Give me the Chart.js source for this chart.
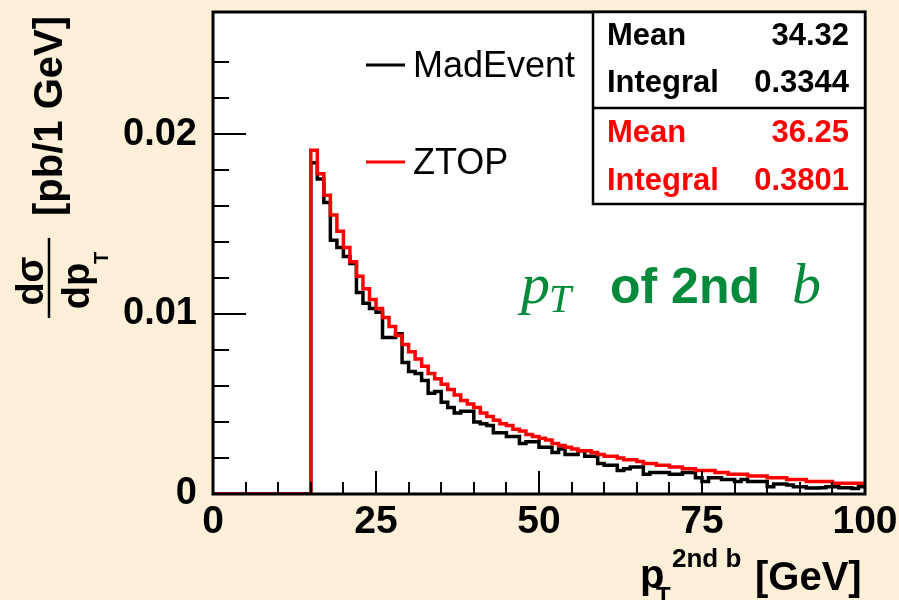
<!DOCTYPE html>
<html>
<head>
<meta charset="utf-8">
<script src="https://cdn.jsdelivr.net/npm/chart.js@4.4.0/dist/chart.umd.min.js"></script>
<style>
  html, body { margin: 0; padding: 0; background: #fdefd8; }
  #wrap { width: 899px; height: 600px; }
</style>
</head>
<body>
<div id="wrap"><canvas id="ptChart" width="899" height="600"></canvas></div>
<script>
// 1 GeV bins, lower edges 0..99
const binLow = Array.from({ length: 100 }, (_, i) => i);

// MadEvent (black)
const madEvent = [
  0, 0, 0, 0, 0, 0, 0, 0, 0, 0,
  0, 0, 0, 0, 0, 0.0184, 0.0175, 0.0162, 0.0141, 0.0137,
  0.0132, 0.0128, 0.0112, 0.0106, 0.0103, 0.0101, 0.0087, 0.0087, 0.0089, 0.0073,
  0.0068, 0.0067, 0.0063, 0.0056, 0.0057, 0.0051, 0.0048, 0.0045, 0.0046, 0.0046,
  0.0040, 0.0039, 0.0038, 0.0034, 0.0034, 0.0032, 0.0032, 0.0028, 0.0029, 0.0029,
  0.0026, 0.0026, 0.0023, 0.0025, 0.0022, 0.0022, 0.0024, 0.0021, 0.0021, 0.0017,
  0.0016, 0.0016, 0.0013, 0.0014, 0.0015, 0.0015, 0.0011, 0.0012, 0.0012, 0.0012,
  0.0011, 0.0011, 0.0012, 0.0012, 0.0009, 0.0007, 0.0009, 0.0009, 0.0008, 0.0008,
  0.0007, 0.0008, 0.0007, 0.0007, 0.0007, 0.0004, 0.00055, 0.00055, 0.0005, 0.0004,
  0.0004, 0.00033, 0.00033, 0.00035, 0.0004, 0.0004, 0.00035, 0.00035, 0.0003, 0.0004
];

// ZTOP (red)
const ztop = [
  0, 0, 0, 0, 0, 0, 0, 0, 0, 0,
  0, 0, 0, 0, 0, 0.0191, 0.0178, 0.0166, 0.0155, 0.0146,
  0.0137, 0.0129, 0.0121, 0.0114, 0.0108, 0.0103, 0.0098, 0.0093, 0.0088, 0.0083,
  0.0079, 0.0075, 0.0071, 0.0067, 0.0064, 0.0061, 0.0058, 0.0055, 0.0052, 0.0050,
  0.0048, 0.0045, 0.0043, 0.0041, 0.0039, 0.0038, 0.0036, 0.0035, 0.0033, 0.0032,
  0.0031, 0.0030, 0.0028, 0.0027, 0.0026, 0.0025, 0.0024, 0.0024, 0.0023, 0.0022,
  0.0021, 0.0021, 0.0020, 0.0019, 0.0019, 0.0018, 0.0017, 0.0017, 0.0016, 0.0016,
  0.0015, 0.0015, 0.0014, 0.0014, 0.0013, 0.0013, 0.0013, 0.0012, 0.0012, 0.0011,
  0.0011, 0.0011, 0.0010, 0.0010, 0.0010, 0.0009, 0.0009, 0.0009, 0.0008, 0.0008,
  0.0008, 0.0007, 0.0007, 0.0007, 0.0007, 0.0006, 0.0006, 0.0006, 0.0006, 0.0006
];

const xTickLabels = ['0', '25', '50', '75', '100'];
const yTickLabels = ['0', '0.01', '0.02'];
const statNames = ['Mean', 'Integral'];
const madStats = ['34.32', '0.3344'];
const ztopStats = ['36.25', '0.3801'];

const bgColor = '#fdefd8';
const green = '#008a3a';
const sans = '"Liberation Sans", Arial, sans-serif';
const serif = '"Liberation Serif", "Times New Roman", serif';

// histogram outline: point at each lower edge, plus the last upper edge
function toSteps(vals) {
  const pts = binLow.map((x, i) => ({ x: x, y: vals[i] }));
  pts.push({ x: 100, y: vals[vals.length - 1] });
  return pts;
}

const rootStyle = {
  id: 'rootStyle',
  beforeDraw(chart) {
    const { ctx, chartArea: a } = chart;
    ctx.save();
    ctx.fillStyle = bgColor;
    ctx.fillRect(0, 0, chart.width, chart.height);
    ctx.fillStyle = '#fff';
    ctx.fillRect(a.left, a.top, a.right - a.left, a.bottom - a.top);
    ctx.restore();
  },
  afterDatasetsDraw(chart) {
    const { ctx, chartArea: a, scales } = chart;
    ctx.save();

    // ticks drawn inside the frame
    ctx.strokeStyle = '#000';
    ctx.lineWidth = 2;
    scales.y.ticks.forEach(t => {
      if (t.value > scales.y.max - 1e-6 || t.value < 1e-9) return;
      const major = Math.abs(t.value / 0.01 - Math.round(t.value / 0.01)) < 1e-6;
      const py = Math.round(scales.y.getPixelForValue(t.value));
      ctx.beginPath();
      ctx.moveTo(a.left, py);
      ctx.lineTo(a.left + (major ? 33 : 16), py);
      ctx.stroke();
    });
    scales.x.ticks.forEach(t => {
      if (t.value <= 0 || t.value >= 100) return;
      const major = t.value % 25 === 0;
      const px = Math.round(scales.x.getPixelForValue(t.value));
      ctx.beginPath();
      ctx.moveTo(px, a.bottom);
      ctx.lineTo(px, a.bottom - (major ? 23 : 12));
      ctx.stroke();
    });

    // frame
    ctx.lineWidth = 3;
    ctx.strokeRect(a.left, a.top, a.right - a.left, a.bottom - a.top);

    // stats box
    const bx = 593, yMid = 108, yBot = 204;
    ctx.fillStyle = '#fff';
    ctx.fillRect(bx, a.top, a.right - bx, yBot - a.top);
    ctx.lineWidth = 2.5;
    ctx.strokeRect(bx, a.top, a.right - bx, yBot - a.top);
    ctx.beginPath();
    ctx.moveTo(bx, yMid);
    ctx.lineTo(a.right, yMid);
    ctx.stroke();
    ctx.font = 'bold 31px ' + sans;
    const rows = [45, 92, 142, 190];
    [madStats, ztopStats].forEach((vals, k) => {
      ctx.fillStyle = k === 0 ? '#000' : '#ff0000';
      vals.forEach((v, j) => {
        const yb = rows[k * 2 + j];
        ctx.textAlign = 'left';
        ctx.fillText(statNames[j], 607, yb);
        ctx.textAlign = 'right';
        ctx.fillText(v, 849, yb);
      });
    });

    // legend
    ctx.textAlign = 'left';
    ctx.lineWidth = 3;
    ctx.font = '36px ' + sans;
    chart.data.datasets.slice().reverse().forEach((ds, i) => {
      const ly = i === 0 ? 65 : 162;
      ctx.strokeStyle = ds.borderColor;
      ctx.beginPath();
      ctx.moveTo(366, ly);
      ctx.lineTo(405, ly);
      ctx.stroke();
      ctx.fillStyle = '#000';
      ctx.fillText(ds.label, 413, ly + 12);
    });

    // green label
    ctx.fillStyle = green;
    ctx.font = 'italic 58px ' + serif;
    ctx.fillText('p', 521, 303);
    ctx.font = 'italic 40px ' + serif;
    ctx.fillText('T', 549, 312);
    ctx.font = 'bold 50px ' + sans;
    ctx.fillText('of 2nd', 610, 303);
    ctx.font = 'italic 58px ' + serif;
    ctx.fillText('b', 792, 303);

    // x title
    ctx.fillStyle = '#000';
    ctx.font = 'bold 40px ' + sans;
    ctx.fillText('p', 640, 588);
    ctx.fillText('[GeV]', 755, 590);
    ctx.font = 'bold 24px ' + sans;
    ctx.fillText('T', 656, 604);
    ctx.font = 'bold 26px ' + sans;
    ctx.fillText('2nd b', 672, 567);

    // y title (rotated)
    const rot = (txt, x, y, font, align) => {
      ctx.save();
      ctx.translate(x, y);
      ctx.rotate(-Math.PI / 2);
      ctx.font = font;
      ctx.textAlign = align;
      ctx.fillText(txt, 0, 0);
      ctx.restore();
    };
    rot('[pb/1 GeV]', 62, 216, 'bold 40px ' + sans, 'left');
    rot('d\u03c3', 43, 281, 'bold 38px ' + sans, 'center');
    rot('dp', 89, 286, 'bold 38px ' + sans, 'center');
    rot('T', 108, 264, 'bold 20px ' + sans, 'left');
    ctx.lineWidth = 2.5;
    ctx.strokeStyle = '#000';
    ctx.beginPath();
    ctx.moveTo(49, 238);
    ctx.lineTo(49, 318);
    ctx.stroke();

    ctx.restore();
  }
};

new Chart(document.getElementById('ptChart'), {
  type: 'line',
  data: {
    datasets: [
      {
        label: 'ZTOP',
        data: toSteps(ztop),
        borderColor: '#ff0000',
        borderWidth: 3.5,
        stepped: true,
        pointRadius: 0,
        fill: false,
        order: 0
      },
      {
        label: 'MadEvent',
        data: toSteps(madEvent),
        borderColor: '#000000',
        borderWidth: 3.5,
        stepped: true,
        pointRadius: 0,
        fill: false,
        order: 1
      }
    ]
  },
  options: {
    responsive: false,
    animation: false,
    devicePixelRatio: 1,
    layout: { padding: { top: 12, right: 34, left: 0, bottom: 0 } },
    plugins: { legend: { display: false }, tooltip: { enabled: false } },
    scales: {
      x: {
        type: 'linear',
        min: 0,
        max: 100,
        grid: { display: false },
        border: { display: false },
        afterFit(scale) {
          scale.height = 106;
          scale.paddingLeft = 0;
          scale.paddingRight = 0;
        },
        ticks: {
          stepSize: 5,
          autoSkip: false,
          maxRotation: 0,
          padding: -3,
          color: '#000',
          font: { family: sans, size: 39, weight: 'bold' },
          callback: v => (v % 25 === 0 ? xTickLabels[v / 25] : '')
        }
      },
      y: {
        type: 'linear',
        min: 0,
        max: 0.02678,
        grid: { display: false },
        border: { display: false },
        afterFit(scale) {
          scale.width = 213;
          scale.paddingTop = 0;
          scale.paddingBottom = 0;
        },
        ticks: {
          stepSize: 0.002,
          autoSkip: false,
          padding: 8,
          color: '#000',
          font: { family: sans, size: 38, weight: 'bold' },
          callback: v => {
            const k = Math.round(v / 0.01);
            return Math.abs(v / 0.01 - k) < 1e-6 ? yTickLabels[k] : '';
          }
        }
      }
    }
  },
  plugins: [rootStyle]
});
</script>
</body>
</html>
